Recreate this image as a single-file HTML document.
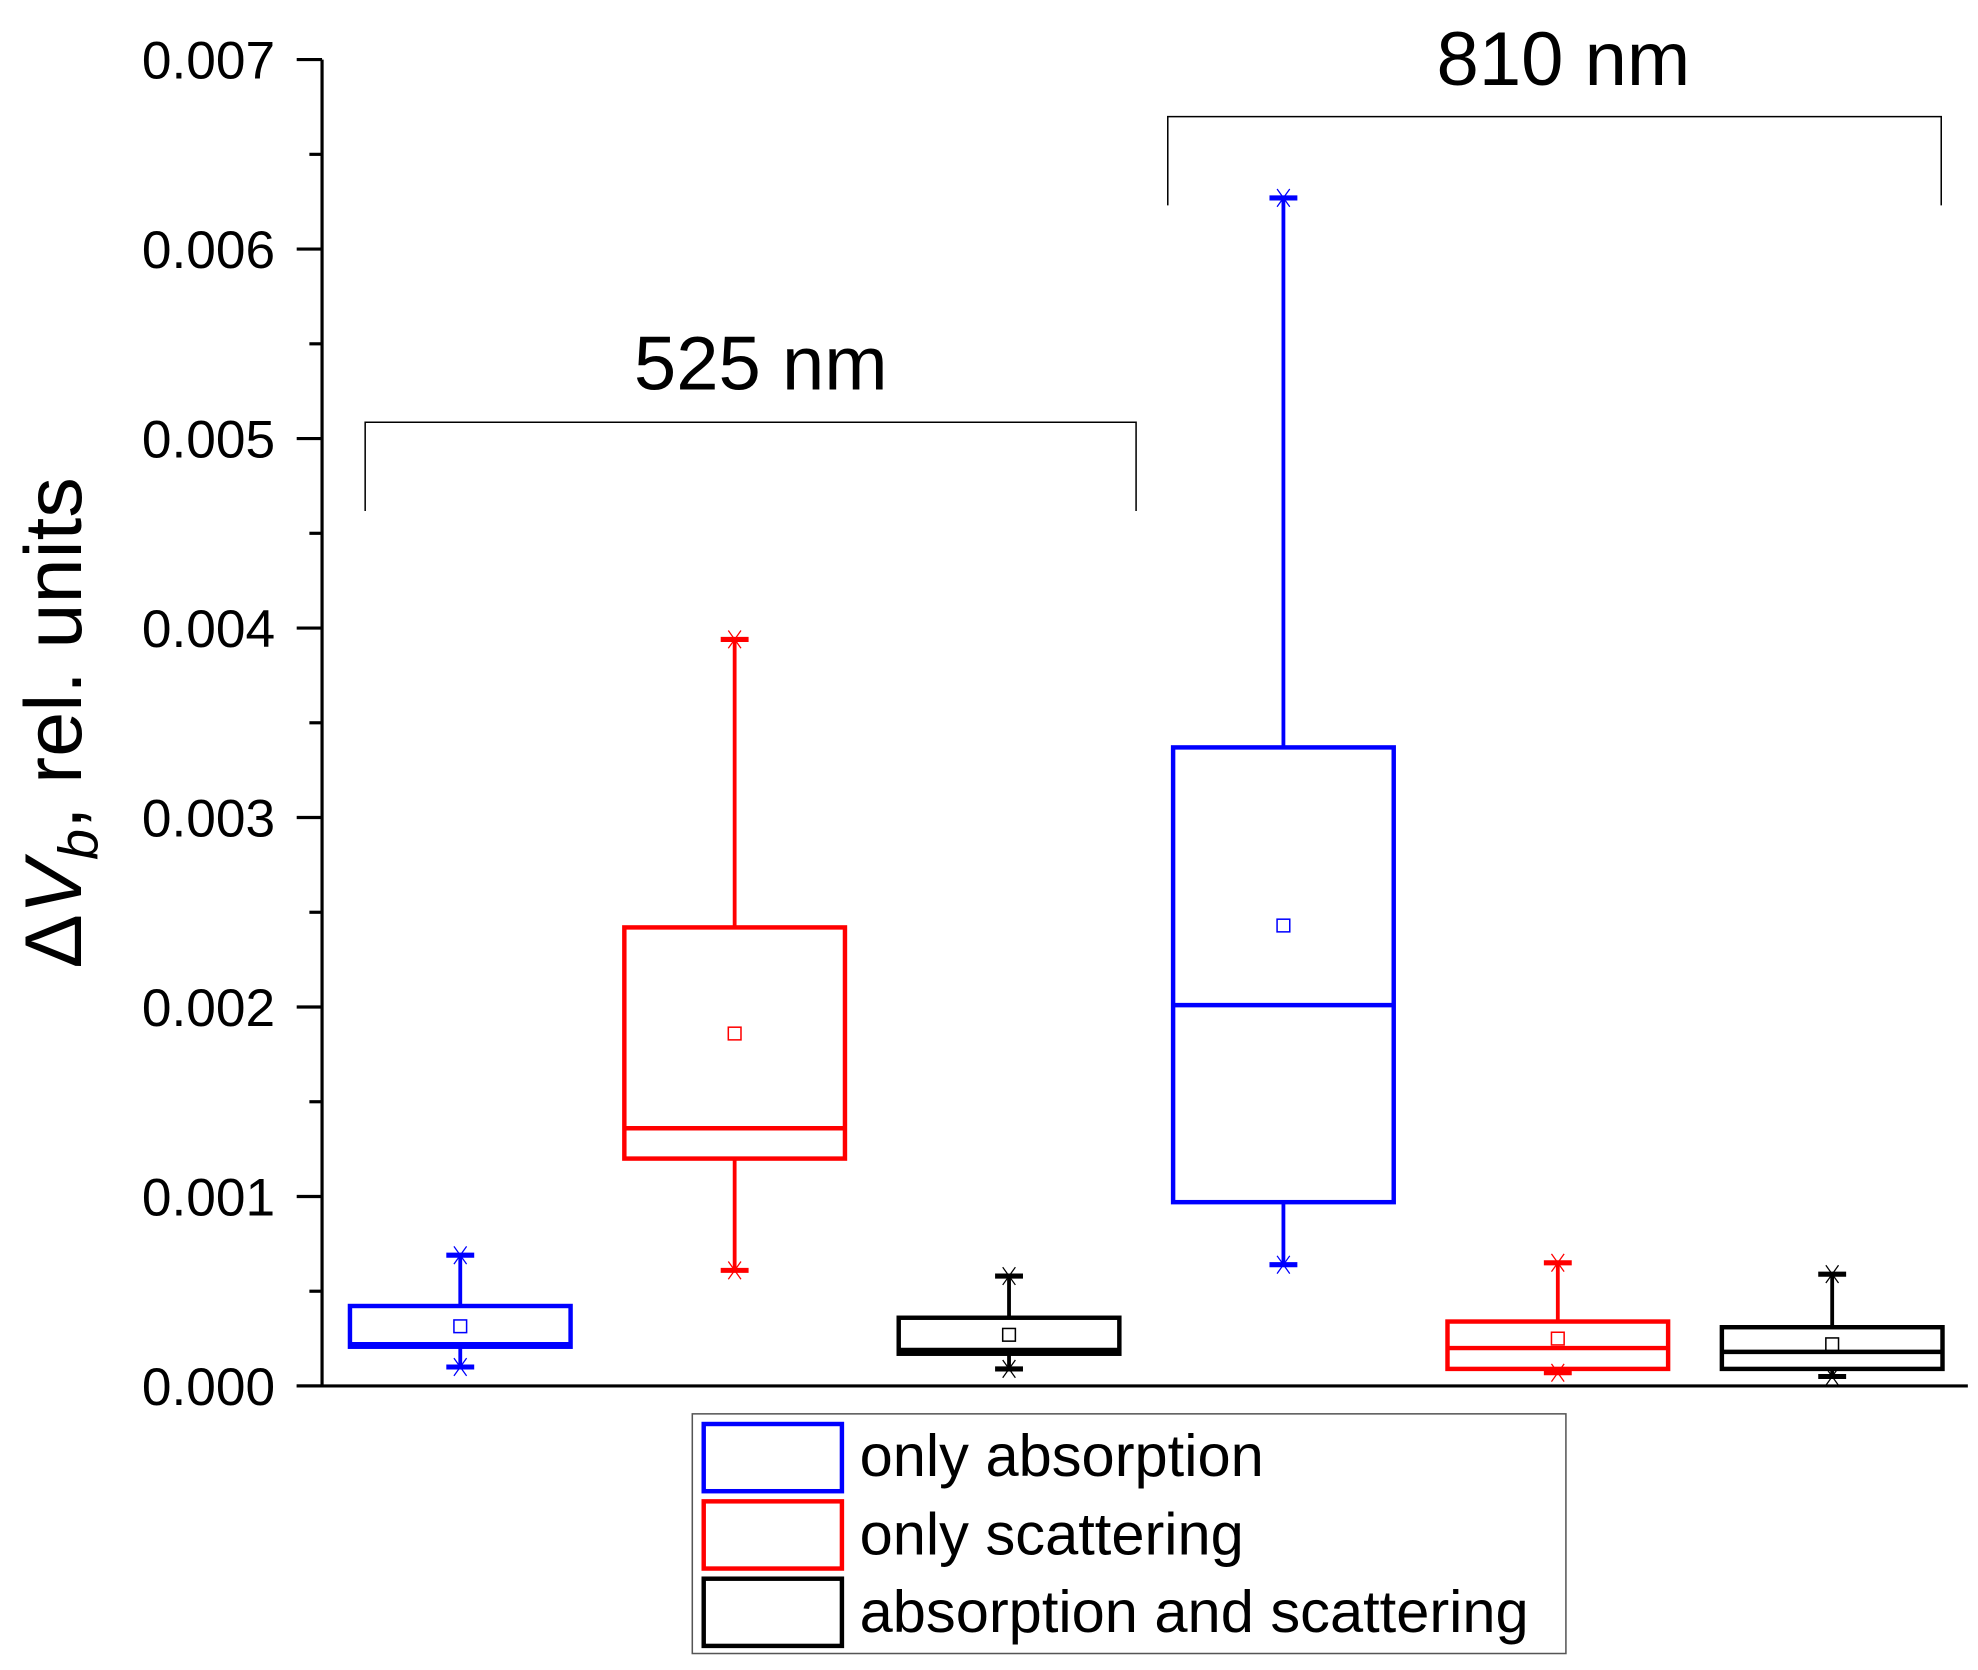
<!DOCTYPE html>
<html><head><meta charset="utf-8"><style>
html,body{margin:0;padding:0;background:#fff;}
svg{display:block;font-family:"Liberation Sans",Arial,sans-serif;}
</style></head><body>
<svg id="chart" width="1978" height="1670" viewBox="0 0 1560 1317" preserveAspectRatio="none" xmlns="http://www.w3.org/2000/svg">
<rect width="1560" height="1317" fill="#fff"/>
<g id="axes"></g>
<g id="boxes"></g>
<text transform="translate(64,570) rotate(-90)" text-anchor="middle" font-size="64" fill="#000">Δ<tspan font-style="italic">V</tspan><tspan font-style="italic" font-size="44" dy="13">b</tspan><tspan dy="-13">, rel. units</tspan></text>
<g><path d="M288,403 V333 H896 V403" fill="none" stroke="#000" stroke-width="1.2"/>
<text x="600" y="307" text-anchor="middle" font-size="60">525 nm</text></g>
<g><path d="M921,162 V92 H1531 V162" fill="none" stroke="#000" stroke-width="1.2"/>
<text x="1233" y="67" text-anchor="middle" font-size="60">810 nm</text></g>
<g>
<rect x="546" y="1115" width="689" height="189" fill="#fff" stroke="#555" stroke-width="1.2"/>
<rect x="555" y="1123" width="109" height="53" fill="none" stroke="#0000ff" stroke-width="3.5"/>
<text x="678" y="1164" font-size="47">only absorption</text>
<rect x="555" y="1184" width="109" height="53" fill="none" stroke="#ff0000" stroke-width="3.5"/>
<text x="678" y="1226" font-size="47">only scattering</text>
<rect x="555" y="1245" width="109" height="53" fill="none" stroke="#000" stroke-width="3.5"/>
<text x="678" y="1287" font-size="47">absorption and scattering</text>
</g>
</svg>
<script>
const categories = ["525-absorption","525-scattering","525-both","810-absorption","810-scattering","810-both"];
const colors = ["#0000ff","#ff0000","#000000","#0000ff","#ff0000","#000000"];
const whiskerHigh = [0.00069,0.00394,0.00058,0.00627,0.00065,0.00059];
const q3Values = [0.000422,0.00242,0.00036,0.00337,0.00034,0.00031];
const medianValues = [0.00022,0.00136,0.00019,0.00201,0.00020,0.00018];
const q1Values = [0.000207,0.00120,0.00017,0.00097,0.00009,0.00009];
const whiskerLow = [0.00010,0.00061,0.00009,0.00064,0.00007,0.00005];
const meanValues = [0.000315,0.00186,0.00027,0.00243,0.00025,0.00022];
const yTicks = [0,0.001,0.002,0.003,0.004,0.005,0.006,0.007];
const yTickLabels = ["0.000","0.001","0.002","0.003","0.004","0.005","0.006","0.007"];

const NS="http://www.w3.org/2000/svg";
const x0=254, xEnd=1552, y0=1093, yTop=47, yMax=0.007;
const boxW=174, slotStart=363, slotStep=216.4;
function yScale(v){return y0-(v/yMax)*(y0-yTop);}
function xScale(i){return slotStart+i*slotStep;}
function mk(tag,attrs,parent){const e=document.createElementNS(NS,tag);for(const k in attrs)e.setAttribute(k,attrs[k]);parent.appendChild(e);return e;}
const axes=document.getElementById('axes');
let l=mk('line',{x1:x0,y1:yTop,x2:x0,y2:y0,stroke:'#000','stroke-width':2.5},axes);


l=mk('line',{x1:x0-20,y1:y0,x2:xEnd,y2:y0,stroke:'#000','stroke-width':2.5},axes);


yTicks.forEach((t,i)=>{
  const y=yScale(t);
  const tk=mk('line',{x1:x0-20,y1:y,x2:x0,y2:y,stroke:'#000','stroke-width':2.5},axes);
  
  
  const tx=mk('text',{x:217,y:y+15,'text-anchor':'end','font-size':42},axes);
  tx.textContent=yTickLabels[i];
  
  
  if(i<yTicks.length-1){
    const ym=yScale(t+0.0005);
    const mt=mk('line',{x1:x0-10,y1:ym,x2:x0,y2:ym,stroke:'#000','stroke-width':2.5},axes);
    
    
  }
});
const boxes=document.getElementById('boxes');
categories.forEach((c,i)=>{
  const g=mk('g',{},boxes);
  
  
  const cx=xScale(i), col=colors[i];
  const yh=yScale(whiskerHigh[i]), yq3=yScale(q3Values[i]), ym=yScale(medianValues[i]), yq1=yScale(q1Values[i]), yl=yScale(whiskerLow[i]), ymean=yScale(meanValues[i]);
  mk('line',{x1:cx,y1:yh,x2:cx,y2:yq3,stroke:col,'stroke-width':3},g);
  mk('line',{x1:cx,y1:yq1,x2:cx,y2:yl,stroke:col,'stroke-width':3},g);
  [yh,yl].forEach(yy=>{
    mk('line',{x1:cx-11,y1:yy,x2:cx+11,y2:yy,stroke:col,'stroke-width':4},g);
    mk('path',{d:`M${cx-5},${yy-7} L${cx+5},${yy+7} M${cx+5},${yy-7} L${cx-5},${yy+7}`,stroke:col,'stroke-width':1,fill:'none'},g);
  });
  mk('rect',{x:cx-boxW/2,y:yq3,width:boxW,height:yq1-yq3,fill:'none',stroke:col,'stroke-width':3.5},g);
  mk('line',{x1:cx-boxW/2,y1:ym,x2:cx+boxW/2,y2:ym,stroke:col,'stroke-width':3.5},g);
  const mm=mk('rect',{x:cx-5,y:ymean-5,width:10,height:10,fill:'none',stroke:col,'stroke-width':1.2},g);
  
  
});
</script>
</body></html>
